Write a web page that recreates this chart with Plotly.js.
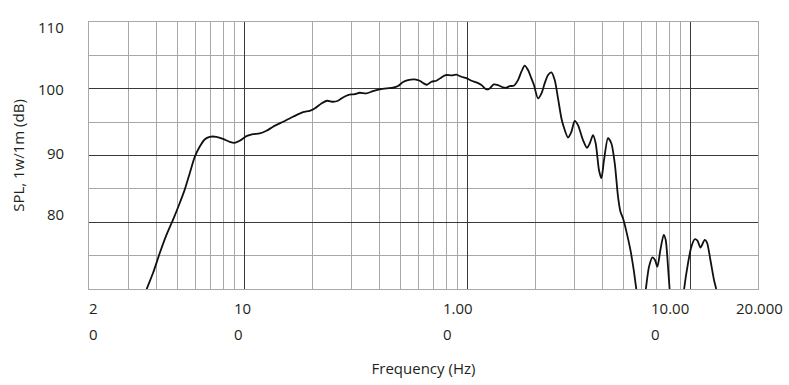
<!DOCTYPE html>
<html>
<head>
<meta charset="utf-8">
<script src="https://cdn.plot.ly/plotly-3.0.1.min.js"></script>
<style>html,body{margin:0;padding:0;background:#fff}#chart{width:789px;height:385px}</style>
</head>
<body>
<div id="chart"></div>
<script>
// ---- data ----
const freqHz = [
  35.2, 36.3, 38.7, 41.5, 44.5, 47.6, 51.0, 53.7, 56.6, 59.6,
  62.7, 66.0, 69.5, 74.5, 79.8, 85.5, 90.0, 94.8, 101.6, 108.8,
  116.6, 124.9, 133.7, 148.3, 164.4, 182.3, 195.3, 205.6, 220.4, 233.6,
  248.5, 261.7, 275.4, 290.0, 310.8, 327.4, 350.8, 375.5, 402.4, 431.2,
  461.6, 486.3, 512.1, 539.3, 577.4, 608.2, 633.8, 655.8, 686.2, 722.6,
  761.0, 795.6, 843.6, 888.4, 935.5, 985.0, 1037, 1092, 1150, 1211,
  1253, 1306, 1365, 1437, 1488, 1540, 1605, 1678, 1738, 1798,
  1861, 1927, 1979, 2063, 2138, 2210, 2288, 2369, 2452, 2537,
  2628, 2690, 2812, 2912, 3014, 3118, 3284, 3422, 3519, 3641,
  3744, 3873, 3970, 4078, 4250, 4402, 4556, 4714, 4831, 4961,
  5140, 5357, 5542, 5698, 5775, 5957, 6175, 6272, 6491, 6725,
  6906, 7079, 7300, 7554, 7712, 7897, 8035, 8119, 9238, 9315,
  9708, 10054, 10402, 10700, 11035, 11535, 11812, 12236, 12698, 13020,
  13195
];
const splDb = [
  68.7, 70.0, 72.35, 75.35, 78.1, 80.35, 82.85, 84.85, 87.35, 89.8,
  91.3, 92.4, 92.8, 92.8, 92.5, 92.05, 91.9, 92.2, 92.9, 93.2,
  93.3, 93.7, 94.3, 95.05, 95.8, 96.5, 96.7, 97.05, 97.8, 98.2,
  98.05, 98.2, 98.7, 99.05, 99.2, 99.4, 99.3, 99.65, 99.9, 100.05,
  100.15, 100.4, 101.0, 101.3, 101.4, 101.2, 100.8, 100.6, 101.05, 101.2,
  101.7, 102.05, 102.0, 102.1, 101.8, 101.6, 101.2, 100.95, 100.55, 99.9,
  100.05, 100.65, 100.55, 100.2, 100.15, 100.4, 100.45, 101.3, 102.55, 103.45,
  102.8, 101.55, 100.55, 98.55, 99.3, 100.8, 102.05, 102.45, 101.3, 98.55,
  95.55, 94.3, 92.7, 93.55, 95.2, 94.55, 92.3, 91.15, 91.8, 93.05,
  91.8, 87.8, 86.6, 89.3, 92.6, 91.8, 88.85, 83.8, 81.6, 80.6,
  78.6, 75.85, 72.85, 69.85, 68.35, 66.85, 68.35, 69.85, 73.35, 74.75,
  74.35, 73.35, 75.85, 78.1, 77.35, 73.35, 69.85, 68.35, 68.35, 69.85,
  73.85, 76.35, 77.45, 77.25, 76.2, 77.35, 76.95, 74.35, 71.35, 69.85,
  68.65
];

// axis values and labels
const xRangeHz = [20, 20000];
const yRangeDb = [70, 110];
const xTickValues = [20, 100, 1000, 10000, 20000];
const xTickLine1 = ['2', '10', '1.00', '10.00', '20.000'];
const xTickLine2 = ['0', '0', '0', '0', ''];
const yTickValues = [110, 100, 90, 80];
const yTickLabels = ['110', '100', '90', '80'];
const majorGridHz = [100, 1000, 10000];
const minorGridHz = [30, 40, 50, 60, 70, 80, 90,
                     200, 300, 400, 500, 600, 700, 800, 900,
                     2000, 3000, 4000, 5000, 6000, 7000, 8000, 9000];
const majorGridDb = [80, 90, 100];
const minorGridDb = [75, 85, 95, 105];

// ---- styling (offsets of the odd label placement in the original) ----
const xLabelShift = [-2, -13, -27, -42, -24];
const yLabelShift = [-5, 0, 2.5, 8];
const textColor = '#231f20';
const darkGrid = '#3a3a3a';
const lightGrid = '#a8a8a8';

const lx0 = Math.log10(xRangeHz[0]);
const lx1 = Math.log10(xRangeHz[1]);
const xFrac = v => (Math.log10(v) - lx0) / (lx1 - lx0);
const yFrac = v => (v - yRangeDb[0]) / (yRangeDb[1] - yRangeDb[0]);

const annotations = [];
xTickValues.forEach((v, i) => {
  annotations.push({
    xref: 'paper', yref: 'paper', x: xFrac(v), y: 0,
    xanchor: 'left', yanchor: 'middle', xshift: xLabelShift[i], yshift: -18.5,
    text: xTickLine1[i], showarrow: false, align: 'left'
  });
  if (xTickLine2[i]) {
    annotations.push({
      xref: 'paper', yref: 'paper', x: xFrac(v), y: 0,
      xanchor: 'left', yanchor: 'middle', xshift: xLabelShift[i], yshift: -44.5,
      text: xTickLine2[i], showarrow: false, align: 'left'
    });
  }
});
yTickValues.forEach((v, i) => {
  annotations.push({
    xref: 'paper', yref: 'paper', x: 0, y: yFrac(v),
    xanchor: 'right', yanchor: 'middle', xshift: -23, yshift: yLabelShift[i],
    text: yTickLabels[i], showarrow: false, align: 'right'
  });
});

const trace = {
  x: freqHz, y: splDb, type: 'scatter', mode: 'lines',
  line: {color: '#111111', width: 1.8, shape: 'spline', smoothing: 0.7},
  hoverinfo: 'skip'
};

const layout = {
  width: 789, height: 385,
  margin: {l: 89, r: 31, t: 22, b: 96, pad: 0},
  paper_bgcolor: '#ffffff', plot_bgcolor: '#ffffff',
  showlegend: false,
  font: {family: '"Open Sans", "Noto Sans", sans-serif', size: 15, color: textColor},
  xaxis: {
    type: 'log', range: [lx0, lx1],
    tickmode: 'array', tickvals: majorGridHz, showticklabels: false, ticks: '',
    showgrid: true, gridcolor: darkGrid, gridwidth: 1,
    minor: {tickmode: 'array', tickvals: minorGridHz, showgrid: true, gridcolor: lightGrid, gridwidth: 1, ticks: ''},
    showline: true, mirror: true, linecolor: lightGrid, linewidth: 1,
    zeroline: false, fixedrange: true,
    title: {text: 'Frequency (Hz)', standoff: 74, font: {size: 15, color: textColor}}
  },
  yaxis: {
    range: yRangeDb,
    tickmode: 'array', tickvals: majorGridDb, showticklabels: false, ticks: '',
    showgrid: true, gridcolor: darkGrid, gridwidth: 1,
    minor: {tickmode: 'array', tickvals: minorGridDb, showgrid: true, gridcolor: lightGrid, gridwidth: 1, ticks: ''},
    showline: true, mirror: true, linecolor: lightGrid, linewidth: 1,
    zeroline: false, fixedrange: true,
    title: {text: 'SPL, 1w/1m (dB)', standoff: 59, font: {size: 15, color: textColor}}
  },
  annotations: annotations
};

Plotly.newPlot('chart', [trace], layout, {staticPlot: true, displayModeBar: false});
</script>
</body>
</html>
